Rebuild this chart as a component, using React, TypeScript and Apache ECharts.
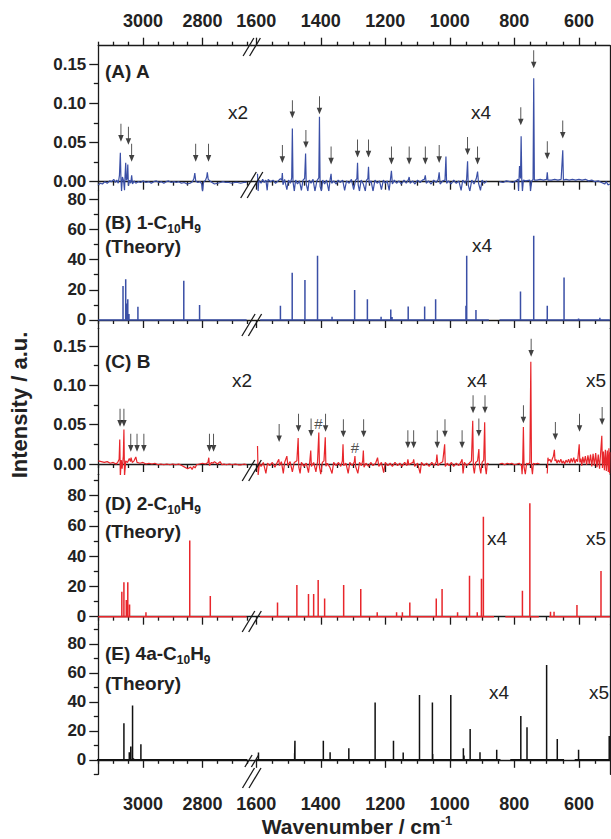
import React, { useEffect, useRef } from 'react';
import * as echarts from 'echarts';

// ---------- axis ranges (cm^-1) ----------
const LEFT_RANGE = [2635, 3150];
const RIGHT_RANGE = [503.6, 1614];
const LEFT_MINOR_TICKS = [3150, 3100, 3050, 2950, 2900, 2850, 2750, 2700, 2650];
const LEFT_MAJOR_TICKS = [3000, 2800];
const RIGHT_MINOR_TICKS = [1550, 1500, 1450, 1350, 1300, 1250, 1150, 1100, 1050, 950, 900, 850, 750, 700, 650, 550];
const RIGHT_MAJOR_TICKS = [1600, 1400, 1200, 1000, 800, 600];

// ---------- (A) experimental spectrum A ----------
const specA_left = [
  [3150, -0.004], [3143, -0.002], [3136, -0.003], [3128, 0.0], [3120, -0.002], [3112, 0.001], [3105, 0.0], [3098, 0.003],
  [3093, -0.001], [3088, 0.002], [3083, -0.002], [3079, 0.008], [3076, 0.037], [3074, 0.004], [3072, -0.012], [3069, 0.006],
  [3065, 0.001], [3062, -0.011], [3060, 0.009], [3058, 0.024], [3056, 0.002], [3053, 0.004], [3051, 0.022], [3049, -0.005],
  [3045, 0.002], [3041, -0.002], [3038, 0.008], [3035, -0.003], [3030, 0.001], [3024, -0.002], [3016, 0.0], [3008, -0.001],
  [3000, 0.001], [2990, -0.001], [2980, 0.0], [2972, -0.002], [2964, 0.0], [2955, 0.001], [2946, -0.001], [2938, 0.0],
  [2930, -0.002], [2922, 0.0], [2914, 0.001], [2905, -0.001], [2896, 0.0], [2888, -0.001], [2880, 0.0], [2871, -0.002],
  [2862, -0.001], [2852, -0.003], [2842, -0.002], [2834, 0.0], [2829, 0.004], [2826, 0.011], [2823, 0.001], [2816, -0.001],
  [2808, 0.0], [2803, -0.003], [2800, -0.013], [2797, -0.001], [2790, 0.002], [2786, 0.006], [2784, 0.012], [2781, 0.003],
  [2775, 0.001], [2768, -0.001], [2760, -0.003], [2750, -0.002], [2740, -0.001], [2731, 0.0], [2722, -0.001], [2712, -0.001],
  [2702, -0.002], [2692, -0.001], [2682, -0.001], [2672, -0.002], [2662, -0.001], [2652, -0.001],
];
const specA_mid = [
  [1596, 0.010], [1594, -0.012], [1592, 0.002], [1585, -0.002], [1580, 0.003], [1575, -0.001], [1570, 0.002], [1566, -0.011],
  [1563, 0.003], [1555, 0.0], [1548, 0.002], [1540, -0.002], [1532, 0.001], [1525, 0.004], [1521, 0.002], [1519, 0.011],
  [1517, -0.004], [1512, 0.003], [1505, -0.010], [1500, 0.002], [1494, -0.002], [1490, 0.005], [1488, 0.068], [1486, 0.0],
  [1482, -0.012], [1478, 0.002], [1472, -0.003], [1466, 0.001], [1460, -0.011], [1455, 0.002], [1450, 0.004], [1447, 0.036],
  [1445, -0.003], [1440, -0.012], [1436, 0.002], [1430, -0.002], [1424, 0.003], [1418, -0.012], [1412, 0.001], [1406, 0.005],
  [1404, 0.083], [1402, -0.006], [1398, -0.012], [1394, 0.002], [1388, -0.003], [1382, 0.002], [1375, -0.012], [1371, 0.003],
  [1368, 0.010], [1366, -0.002], [1360, 0.001], [1352, -0.003], [1346, 0.002], [1340, -0.001], [1332, 0.002], [1326, -0.011],
  [1320, 0.001], [1312, -0.002], [1305, 0.003], [1298, -0.010], [1292, 0.002], [1288, 0.004], [1286, 0.024], [1284, -0.004],
  [1280, -0.012], [1275, 0.002], [1268, -0.003], [1262, -0.012], [1258, 0.002], [1254, 0.004], [1252, 0.019], [1250, -0.002],
  [1244, 0.001], [1238, -0.012], [1232, 0.002], [1225, -0.002], [1218, 0.001], [1212, -0.010], [1206, 0.002], [1200, -0.002],
  [1194, 0.001], [1188, -0.011], [1184, 0.003], [1181, 0.014], [1178, -0.003], [1172, 0.002], [1165, -0.002], [1158, 0.001],
  [1150, -0.003], [1142, 0.002], [1135, -0.002], [1129, 0.002], [1126, 0.006], [1123, -0.002], [1115, 0.001], [1108, -0.003],
  [1100, 0.002], [1092, -0.001], [1085, 0.002], [1079, 0.003], [1076, 0.008], [1073, -0.002], [1066, 0.001], [1058, -0.003],
  [1050, 0.002], [1042, -0.001], [1036, 0.003], [1033, 0.012], [1030, -0.003], [1022, 0.001], [1015, 0.002], [1012, 0.032],
  [1010, -0.002], [1004, 0.001], [996, -0.003], [988, 0.002], [980, -0.002], [972, 0.001], [965, -0.011], [960, 0.002],
  [952, -0.002], [948, 0.003], [945, 0.026], [943, -0.004], [938, -0.012], [932, 0.002], [925, -0.003], [918, 0.004],
  [914, 0.013], [911, -0.002], [905, -0.011], [900, 0.002], [893, -0.002], [885, 0.001],
];
const specA_far = [
  [846, 0.0], [835, -0.001], [825, 0.001], [815, 0.0], [805, -0.001], [795, 0.001], [789, 0.003], [787, -0.012],
  [784, 0.020], [781, 0.004], [779, 0.058], [777, 0.003], [775, -0.012], [772, 0.002], [765, 0.001], [752, 0.002],
  [750, -0.012], [746, 0.001], [742, 0.003], [740, 0.132], [738, 0.002], [730, 0.002], [720, 0.003], [710, 0.002],
  [700, 0.003], [698, 0.012], [696, 0.002], [685, 0.002], [675, 0.003], [665, 0.002], [655, 0.003], [650, 0.040],
  [648, 0.002], [640, 0.003], [630, 0.002], [620, 0.003], [610, 0.002], [600, 0.003], [590, 0.002], [580, 0.003],
  [570, 0.001], [560, 0.002], [550, 0.0], [540, 0.001], [530, -0.001], [520, -0.003], [515, 0.0], [510, -0.004], [504, -0.003],
];
const arrowsA_left = [[3074, 0.051], [3049, 0.047], [3038, 0.0255], [2823, 0.0255], [2780, 0.0255]];
const arrowsA_right = [
  [1519, 0.024], [1488, 0.081], [1446, 0.043], [1404, 0.086], [1368, 0.022], [1286, 0.031], [1252, 0.031], [1181, 0.022],
  [1126, 0.022], [1076, 0.022], [1033, 0.024], [945, 0.034], [914, 0.022], [780, 0.072], [740, 0.1446], [698, 0.0286], [650, 0.055],
];

// ---------- (B) theory 1-C10H9 : [wavenumber, intensity] sticks ----------
const th1_left = [[3067, 22.5], [3058, 27], [3055, 11], [3051, 13.7], [3047, 4], [3017, 8.8], [2863, 26], [2810, 10]];
const th1_mid = [
  [1525, 9.5], [1488.5, 31.3], [1449, 26.5], [1410, 42.6], [1365, 2.2], [1295, 19.9], [1255.5, 13.7], [1213, 2.2],
  [1183, 7], [1179, 2], [1129, 9], [1078, 9], [1044, 13.7], [950, 9.5], [947.7, 42.6], [919, 6.6],
];
const th1_far = [[781, 18.8], [740, 55.8], [698, 9.5], [646, 28.2], [601, 1], [535, 1.5]];
const th1_segments = [[3150, 2652], [1588, 879], [846, 504]];

// ---------- (C) experimental spectrum B ----------
const specB_left = [
  [3150, 0.004], [3140, 0.003], [3130, 0.002], [3120, 0.003], [3110, 0.001], [3100, 0.002], [3090, 0.0], [3085, 0.002],
  [3080, 0.006], [3078, 0.031], [3076, -0.016], [3073, 0.005], [3070, -0.006], [3066, 0.010], [3064, 0.044], [3062, -0.016],
  [3058, 0.004], [3052, 0.002], [3046, 0.007], [3042, 0.003], [3040, 0.008], [3036, 0.002], [3030, 0.004], [3024, 0.009],
  [3020, 0.002], [3010, 0.001], [3000, 0.002], [2990, 0.0], [2980, 0.001], [2970, 0.0], [2960, 0.001], [2950, -0.001],
  [2940, 0.0], [2930, -0.001], [2920, 0.0], [2910, -0.001], [2900, 0.0], [2890, -0.001], [2880, 0.0], [2870, -0.002],
  [2860, -0.004], [2850, -0.006], [2840, -0.004], [2835, -0.007], [2830, -0.003], [2825, -0.005], [2820, -0.001], [2810, 0.0],
  [2800, 0.001], [2790, 0.0], [2782, 0.002], [2779, 0.008], [2777, -0.002], [2770, 0.002], [2765, 0.001], [2760, 0.003],
  [2750, 0.0], [2741, 0.003], [2735, -0.001], [2728, 0.0], [2720, -0.001], [2710, 0.0], [2700, -0.001], [2690, 0.0],
  [2680, -0.001], [2670, -0.001], [2660, 0.0], [2652, -0.001],
];
const specB_mid = [
  [1596, 0.023], [1594, -0.014], [1590, 0.001], [1585, -0.003], [1578, 0.002], [1570, -0.012], [1565, 0.001], [1558, -0.002],
  [1550, 0.002], [1542, -0.004], [1535, 0.002], [1530, 0.006], [1528, -0.002], [1522, 0.003], [1516, -0.012], [1512, 0.002],
  [1505, 0.010], [1502, -0.002], [1495, 0.003], [1488, -0.010], [1482, 0.002], [1474, 0.004], [1470, 0.033], [1468, -0.004],
  [1464, -0.012], [1460, 0.002], [1452, -0.003], [1445, 0.001], [1438, -0.011], [1434, 0.003], [1431, 0.017], [1429, -0.003],
  [1422, 0.002], [1415, -0.010], [1410, 0.003], [1406, 0.040], [1404, -0.004], [1400, -0.013], [1395, 0.002], [1390, 0.004],
  [1386, 0.034], [1384, -0.003], [1380, 0.001], [1372, -0.004], [1365, -0.012], [1360, 0.002], [1352, -0.002], [1345, 0.002],
  [1338, -0.003], [1333, 0.004], [1331, 0.025], [1329, -0.002], [1322, 0.001], [1315, -0.012], [1310, 0.002], [1302, -0.002],
  [1296, 0.003], [1294, 0.010], [1292, -0.003], [1285, -0.012], [1280, 0.002], [1274, -0.002], [1270, 0.004], [1268, 0.017],
  [1266, -0.004], [1260, 0.001], [1252, -0.003], [1245, 0.002], [1238, -0.002], [1230, 0.001], [1224, 0.008], [1220, -0.003],
  [1212, 0.002], [1205, -0.011], [1200, 0.002], [1192, -0.002], [1185, 0.001], [1178, -0.003], [1170, 0.002], [1162, -0.002],
  [1155, 0.001], [1148, -0.003], [1140, 0.002], [1133, -0.002], [1130, 0.006], [1127, -0.001], [1120, 0.001], [1114, 0.002],
  [1112, 0.006], [1109, -0.003], [1100, 0.001], [1092, -0.012], [1088, 0.002], [1080, -0.002], [1072, 0.001], [1064, -0.003],
  [1056, 0.002], [1048, -0.002], [1042, 0.003], [1040, 0.012], [1037, -0.002], [1030, 0.001], [1022, 0.003], [1016, 0.025],
  [1014, -0.003], [1008, 0.001], [1002, -0.002], [995, 0.002], [988, -0.003], [980, 0.001], [972, -0.002], [965, 0.003],
  [962, 0.006], [959, -0.012], [955, 0.002], [948, -0.002], [940, 0.001], [933, 0.004], [929, 0.055], [927, -0.004],
  [924, -0.012], [920, 0.002], [914, 0.004], [910, 0.019], [908, -0.003], [904, -0.012], [900, 0.002], [895, 0.005],
  [892, 0.053], [890, -0.004], [887, -0.013], [884, 0.001], [879, 0.0],
];
const specB_far1 = [
  [846, 0.0], [838, 0.001], [830, -0.001], [822, 0.001], [815, 0.0], [808, 0.001], [800, -0.001], [792, 0.0],
  [785, 0.001], [778, -0.002], [776, -0.013], [774, 0.003], [772, 0.047], [770, -0.004], [766, -0.013], [762, 0.001],
  [756, 0.0], [752, 0.002], [749, 0.130], [747, -0.002], [744, -0.013], [741, 0.001], [735, 0.0], [728, 0.001], [722, 0.0],
];
const specB_far2 = [
  [698, -0.012], [696, 0.008], [694, 0.004], [690, 0.006], [686, 0.002], [682, 0.007], [679, 0.010], [676, 0.018],
  [674, 0.004], [671, 0.006], [668, 0.001], [664, 0.005], [660, 0.002], [656, 0.006], [652, 0.001], [648, 0.004],
  [644, 0.0], [640, 0.005], [636, 0.002], [632, 0.006], [628, 0.001], [624, 0.007], [620, 0.002], [616, 0.008],
  [612, 0.001], [608, 0.006], [604, 0.003], [599, 0.025], [597, 0.002], [594, 0.007], [591, -0.002], [588, 0.009],
  [584, 0.001], [580, 0.010], [576, -0.001], [572, 0.011], [568, 0.0], [564, 0.012], [560, -0.003], [556, 0.013],
  [552, -0.002], [548, 0.014], [544, -0.004], [540, 0.012], [536, -0.006], [529, 0.036], [527, -0.005], [524, 0.016],
  [521, -0.008], [518, 0.018], [515, -0.009], [512, 0.017], [509, -0.010], [507, 0.020], [505, -0.012], [504, 0.015],
];
const arrowsB_left = [[3077, 0.0475], [3064, 0.0475], [3041, 0.0157], [3020, 0.0157], [2997, 0.0157], [2777, 0.0157], [2763, 0.0157]];
const arrowsB_right = [
  [1529, 0.028], [1469, 0.041], [1430, 0.035], [1385, 0.041], [1330, 0.034], [1267, 0.034], [1130, 0.020], [1112, 0.020],
  [1039, 0.020], [1015, 0.034], [962, 0.020], [928, 0.0645], [910, 0.035], [891, 0.0645], [772, 0.0518], [748, 0.1365],
  [673, 0.0305], [598, 0.041], [528, 0.0496],
];
const hashB = [[1407, 0.052], [1294, 0.021]];

// ---------- (D) theory 2-C10H9 ----------
const th2_left = [[3071, 16.5], [3064, 22.7], [3056, 11], [3051, 22.7], [3045, 8], [2990, 2.9], [2843, 50.3], [2774, 13.7]];
const th2_mid = [
  [1534, 9.3], [1474, 21], [1438, 15], [1422, 15], [1408, 24.3], [1388, 12], [1329, 21], [1276, 18.3], [1225, 2.9],
  [1165, 2.9], [1147, 2.9], [1124, 9.3], [1042, 12], [1024, 18.3], [976, 2.9], [939, 27], [915, 2.9], [902, 25], [896, 66],
];
const th2_far1 = [[775, 17.2], [752, 75]];
const th2_far2 = [[688, 3.3], [677, 3.3], [606, 7.7], [531.5, 30.2]];
const th2_segments = [[3150, 2652], [1588, 863], [828, 724], [692, 504]];

// ---------- (E) theory 4a-C10H9 ----------
const th3_left = [[3064, 25.3], [3046, 5.3], [3041, 9.2], [3035, 37.5], [3032, 1], [3007, 10.8]];
const th3_mid = [
  [1593, 5], [1481, 4.6], [1480, 13.1], [1392, 13.1], [1371, 5.3], [1313, 8], [1231.5, 39.5], [1174.6, 13.1],
  [1144.5, 5], [1094, 44.8], [1054, 39.5], [1053, 4], [997, 44.8], [958, 8], [956, 3], [937, 21.2], [906.5, 5.3], [854.7, 6.9],
];
const th3_far1 = [[780, 30.3], [760.8, 22.5], [700, 65.5], [667, 14.3]];
const th3_far2 = [[601, 6.9], [506, 16.5]];
const th3_segments = [[3165, 2650], [1600, 843], [812.6, 646], [613, 504]];

// ---------- y ticks ----------
const EXP_MAJOR = [0, 0.05, 0.1, 0.15];
const EXP_MINOR = [0.025, 0.075, 0.125];
const TH_MAJOR = [0, 20, 40, 60, 80];

const BLUE = '#3a4fa6';
const RED = '#e8262b';
const BLACK = '#111111';
const AX = '#1a1a1a';
const TXT = '#222222';
const FONT = 'Arial, "Liberation Sans", Helvetica, sans-serif';

function sticks(range: number[], list: number[][]) {
  const d: number[][] = [[range[0], 0]];
  list.forEach(([x, h]) => { d.push([x, 0], [x, h], [x, 0]); });
  d.push([range[1], 0]);
  return d;
}

export default function App() {
  const ref = useRef<HTMLDivElement>(null);
  useEffect(() => {
    if (!ref.current) return;
    const chart = echarts.init(ref.current, undefined, { renderer: 'svg' });

    const panels: any[] = [
      { top: 45.7, bottom: 190.7, min: -0.0115, max: 0.1735, major: EXP_MAJOR, minor: EXP_MINOR, fmt: (v: number) => v.toFixed(2) },
      { top: 190.7, bottom: 328.3, min: -5.5, max: 85.6, major: TH_MAJOR, minor: [10, 30, 50, 70], fmt: (v: number) => String(v) },
      { top: 328.3, bottom: 474.3, min: -0.0131, max: 0.1726, major: EXP_MAJOR, minor: EXP_MINOR, fmt: (v: number) => v.toFixed(2) },
      { top: 474.3, bottom: 624.7, min: -5.3, max: 94.1, major: TH_MAJOR, minor: [10, 30, 50, 70, 90], fmt: (v: number) => String(v) },
      { top: 624.7, bottom: 774.3, min: -10, max: 93.3, major: TH_MAJOR, minor: [-10, 10, 30, 50, 70, 90], fmt: (v: number) => String(v) },
    ];
    const segRanges = [LEFT_RANGE, RIGHT_RANGE];
    const segRects = [{ left: 98.3, width: 153.4 }, { left: 251.7, width: 358.3 }];
    const grids: any[] = [], xAxes: any[] = [], yAxes: any[] = [], series: any[] = [];
    const lbl = { fontSize: 18, fontWeight: 'bold', color: TXT, fontFamily: FONT };
    const ylbl = { fontSize: 17, fontWeight: 'bold', color: TXT, fontFamily: FONT };
    const lineSt = { color: AX, width: 1.3 };
    const plain = (v: number) => String(v);

    panels.forEach((P, p) => {
      P.x = [0, 0]; P.y = [0, 0];
      for (let s = 0; s < 2; s++) {
        for (let o = 0; o < 2; o++) {
          const gi = grids.length;
          grids.push({ left: segRects[s].left, width: segRects[s].width, top: P.top, height: P.bottom - P.top });
          const xr = segRanges[s];
          const minorT = s === 0 ? LEFT_MINOR_TICKS : RIGHT_MINOR_TICKS;
          const majorT = s === 0 ? LEFT_MAJOR_TICKS : RIGHT_MAJOR_TICKS;
          const base = { type: 'value', gridIndex: gi, min: xr[0], max: xr[1], inverse: true, splitLine: { show: false } };
          const isLast = p === panels.length - 1;
          xAxes.push({
            ...base, position: 'bottom',
            axisLine: { show: o === 0, lineStyle: lineSt },
            axisTick: { show: true, customValues: o === 0 ? minorT : majorT, length: o === 0 ? 4 : 8, lineStyle: lineSt },
            axisLabel: { show: o === 1 && isLast, customValues: majorT, margin: 21, formatter: plain, ...lbl },
          });
          if (o === 0) P.x[s] = xAxes.length - 1;
          if (p === 0) {
            xAxes.push({
              ...base, position: 'top',
              axisLine: { show: o === 0, lineStyle: lineSt },
              axisTick: { show: true, customValues: o === 0 ? minorT : majorT, length: o === 0 ? 4 : 8, lineStyle: lineSt },
              axisLabel: { show: o === 1, customValues: majorT, margin: 16, formatter: plain, ...lbl },
            });
          }
          const ybase = { type: 'value', gridIndex: gi, min: P.min, max: P.max, splitLine: { show: false } };
          if (s === 0 && o === 0) {
            yAxes.push({ ...ybase, position: 'left', axisLine: { show: true, lineStyle: lineSt },
              axisTick: { show: true, customValues: P.minor, length: 4.5, lineStyle: lineSt }, axisLabel: { show: false } });
          } else if (s === 0 && o === 1) {
            yAxes.push({ ...ybase, position: 'left', axisLine: { show: false },
              axisTick: { show: true, customValues: P.major, length: 9, lineStyle: lineSt },
              axisLabel: { show: true, customValues: P.major, formatter: P.fmt, margin: 12, ...ylbl } });
          } else if (s === 1 && o === 0) {
            yAxes.push({ ...ybase, position: 'right', axisLine: { show: true, lineStyle: lineSt },
              axisTick: { show: false }, axisLabel: { show: false } });
          } else {
            yAxes.push({ ...ybase, show: false });
          }
          if (o === 0) P.y[s] = yAxes.length - 1;
        }
      }
    });

    const line = (p: number, s: number, data: number[][], color: string, width = 1.2) => series.push({
      type: 'line', xAxisIndex: panels[p].x[s], yAxisIndex: panels[p].y[s], data, showSymbol: false, symbol: 'none',
      lineStyle: { color, width }, itemStyle: { color }, silent: true, z: 3,
    });
    const ARROW = 'path://M4.2,0 L5.8,0 L5.8,19 L10,19 L5,30 L0,19 L4.2,19 Z';
    const arrows = (p: number, s: number, data: number[][]) => series.push({
      type: 'scatter', xAxisIndex: panels[p].x[s], yAxisIndex: panels[p].y[s], data, symbol: ARROW,
      symbolSize: [5.5, 18], symbolOffset: [0, '-50%'], itemStyle: { color: BLACK }, silent: true, z: 5,
    });

    // A
    line(0, 0, specA_left, BLUE); line(0, 1, specA_mid, BLUE); line(0, 1, specA_far, BLUE);
    arrows(0, 0, arrowsA_left); arrows(0, 1, arrowsA_right);
    // B theory
    line(1, 0, sticks(th1_segments[0], th1_left), BLUE, 1.5);
    line(1, 1, sticks(th1_segments[1], th1_mid), BLUE, 1.5);
    line(1, 1, sticks(th1_segments[2], th1_far), BLUE, 1.5);
    // C
    line(2, 0, specB_left, RED); line(2, 1, specB_mid, RED); line(2, 1, specB_far1, RED); line(2, 1, specB_far2, RED);
    arrows(2, 0, arrowsB_left); arrows(2, 1, arrowsB_right);
    series.push({
      type: 'scatter', xAxisIndex: panels[2].x[1], yAxisIndex: panels[2].y[1], data: hashB, symbolSize: 1,
      itemStyle: { color: 'rgba(0,0,0,0)' }, silent: true, z: 6,
      label: { show: true, position: 'inside', formatter: '#', fontSize: 15, color: TXT, fontFamily: FONT },
    });
    // D theory
    line(3, 0, sticks(th2_segments[0], th2_left), RED, 1.5);
    line(3, 1, sticks(th2_segments[1], th2_mid), RED, 1.5);
    line(3, 1, sticks(th2_segments[2], th2_far1), RED, 1.5);
    line(3, 1, sticks(th2_segments[3], th2_far2), RED, 1.5);
    // E theory
    line(4, 0, sticks(th3_segments[0], th3_left), BLACK, 1.5);
    line(4, 1, sticks(th3_segments[1], th3_mid), BLACK, 1.5);
    line(4, 1, sticks(th3_segments[2], th3_far1), BLACK, 1.5);
    line(4, 1, sticks(th3_segments[3], th3_far2), BLACK, 1.5);

    const graphic: any[] = [];
    const rich = {
      s: { fontSize: 12, fontWeight: 'bold', fontFamily: FONT, color: TXT, verticalAlign: 'bottom' },
      sup: { fontSize: 13, fontWeight: 'bold', fontFamily: FONT, color: TXT, verticalAlign: 'top' },
    };
    const text = (x: number, y: number, t: string, opt: any = {}) => graphic.push({
      type: 'text', x, y, silent: true, z: 10, rotation: opt.rotation || 0,
      style: {
        text: t, fill: TXT, fontSize: opt.fontSize || 19, fontWeight: opt.fontWeight || 'bold', fontFamily: FONT,
        align: opt.align || 'left', verticalAlign: 'middle', textAlign: opt.align || 'left', textVerticalAlign: 'middle',
        lineHeight: opt.lineHeight, rich,
      },
    });
    text(105, 71, '(A) A');
    text(105, 222, '(B) 1-C{s|10}H{s|9}', { lineHeight: 26 });
    text(105, 246, '(Theory)');
    text(105, 361, '(C) B');
    text(105, 503, '(D) 2-C{s|10}H{s|9}', { lineHeight: 26 });
    text(105, 531, '(Theory)');
    text(105, 653, '(E) 4a-C{s|10}H{s|9}', { lineHeight: 26 });
    text(105, 683, '(Theory)');
    const mult = (x: number, y: number, t: string) => text(x, y, t, { fontSize: 19, fontWeight: 'normal', align: 'center' });
    mult(238, 112, 'x2'); mult(481, 112, 'x4');
    mult(482, 245, 'x4');
    mult(242, 380, 'x2'); mult(477, 380, 'x4'); mult(596, 380, 'x5');
    mult(497, 538, 'x4'); mult(596, 538, 'x5');
    mult(499, 692, 'x4'); mult(599, 692, 'x5');
    text(357, 826, 'Wavenumber / cm{sup|-1}', { fontSize: 21, align: 'center', lineHeight: 24 });
    text(19, 405, 'Intensity / a.u.', { fontSize: 22, align: 'center', rotation: Math.PI / 2 });

    // axis break marks
    const breaks = [[38, 56], [172, 198], [314, 336], [460, 481], [611, 632], [755, 767], [768, 788]];
    breaks.forEach(([yt, yb]) => {
      const h = yb - yt;
      [248.5, 255].forEach((xm) => graphic.push({
        type: 'line', silent: true, z: 12,
        shape: { x1: xm - 0.3 * h, y1: yb, x2: xm + 0.3 * h, y2: yt },
        style: { stroke: AX, lineWidth: 1.3 },
      }));
    });

    chart.setOption({ animation: false, grid: grids, xAxis: xAxes, yAxis: yAxes, series, graphic });
    return () => chart.dispose();
  }, []);
  return <div ref={ref} style={{ position: 'fixed', left: 0, top: 0, width: 611, height: 839, background: '#fff' }} />;
}
